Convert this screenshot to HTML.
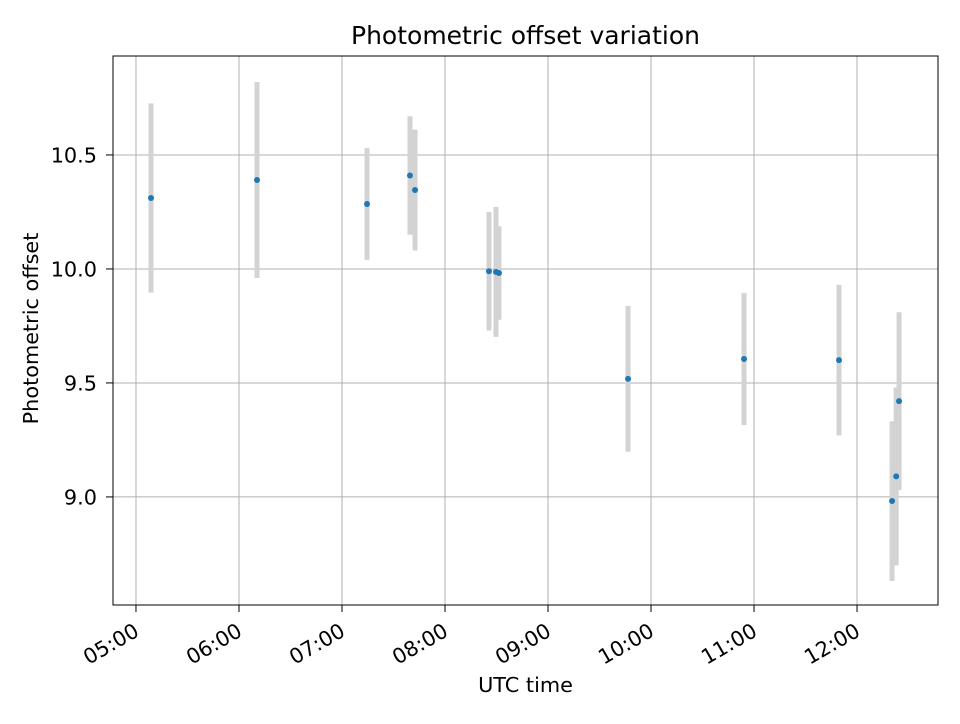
<!DOCTYPE html>
<html><head><meta charset="utf-8"><style>
body{margin:0;background:#fff;font-family:"DejaVu Sans","Liberation Sans",sans-serif}
text{font-family:"DejaVu Sans","Liberation Sans",sans-serif}
</style></head><body>
<svg id="chart" width="960" height="720" xmlns="http://www.w3.org/2000/svg"></svg>
<script>
const timesH=[5.146,6.175,7.243,7.66,7.709,8.427,8.495,8.524,9.777,10.903,11.825,12.34,12.38,12.408];
const offsets=[10.311,10.39,10.285,10.41,10.346,9.99,9.987,9.982,9.518,9.605,9.60,8.982,9.09,9.42];
const errors=[0.415,0.43,0.245,0.26,0.265,0.26,0.285,0.205,0.32,0.29,0.33,0.35,0.39,0.39];
const xTicks=[5,6,7,8,9,10,11,12];
const xTickLabels=["05:00","06:00","07:00","08:00","09:00","10:00","11:00","12:00"];
const yTicks=[9.0,9.5,10.0,10.5];
const yTickLabels=["9.0","9.5","10.0","10.5"];

const L=113,R=938,T=56,B=605;
const xMin=4.777,xMax=12.786,yMin=8.526,yMax=10.934;
const X=v=>L+(v-xMin)/(xMax-xMin)*(R-L);
const Y=v=>B-(v-yMin)/(yMax-yMin)*(B-T);
const svg=document.getElementById('chart');
const NS='http://www.w3.org/2000/svg';
function mk(tag,attrs,parent){const e=document.createElementNS(NS,tag);for(const k in attrs)e.setAttribute(k,attrs[k]);(parent||svg).appendChild(e);return e;}

xTicks.forEach((t,i)=>{
  const g=mk('line',{x1:X(t),x2:X(t),y1:T,y2:B,stroke:'#b0b0b0','stroke-width':1});
  
  
  const tk=mk('line',{x1:X(t),x2:X(t),y1:B,y2:B+7,stroke:'#000','stroke-width':1});
  
  
  const grp=mk('g',{transform:`translate(${X(t)-3},${B+17}) rotate(-30)`});
  const tx=mk('text',{x:0,y:15,'text-anchor':'end',style:'font-size:20.8px'},grp);
  tx.textContent=xTickLabels[i];
  
  
});
yTicks.forEach((t,i)=>{
  const g=mk('line',{x1:L,x2:R,y1:Y(t),y2:Y(t),stroke:'#b0b0b0','stroke-width':1});
  
  
  const tk=mk('line',{x1:L-7,x2:L,y1:Y(t),y2:Y(t),stroke:'#000','stroke-width':1});
  
  
  const tx=mk('text',{x:L-16,y:Y(t)+7.5,'text-anchor':'end',style:'font-size:20.8px'});
  tx.textContent=yTickLabels[i];
  
  
});
timesH.forEach((t,i)=>{
  const e=mk('line',{x1:X(t),x2:X(t),y1:Y(offsets[i]+errors[i]),y2:Y(offsets[i]-errors[i]),stroke:'#d3d3d3','stroke-width':5});
  
  
});
timesH.forEach((t,i)=>{
  const c=mk('circle',{cx:X(t),cy:Y(offsets[i]),r:3,fill:'#1f77b4'});
  
  
});
const fr=mk('rect',{x:L,y:T,width:R-L,height:B-T,fill:'none',stroke:'#000','stroke-width':1});


const ti=mk('text',{x:(L+R)/2,y:44,'text-anchor':'middle',style:'font-size:25px'});
ti.textContent='Photometric offset variation';


const xl=mk('text',{x:(L+R)/2,y:692,'text-anchor':'middle',style:'font-size:20.8px'});
xl.textContent='UTC time';


const yl=mk('text',{x:38,y:(T+B)/2-2,'text-anchor':'middle',transform:`rotate(-90 38 ${(T+B)/2-2})`,style:'font-size:20.8px'});
yl.textContent='Photometric offset';


</script>
</body></html>
